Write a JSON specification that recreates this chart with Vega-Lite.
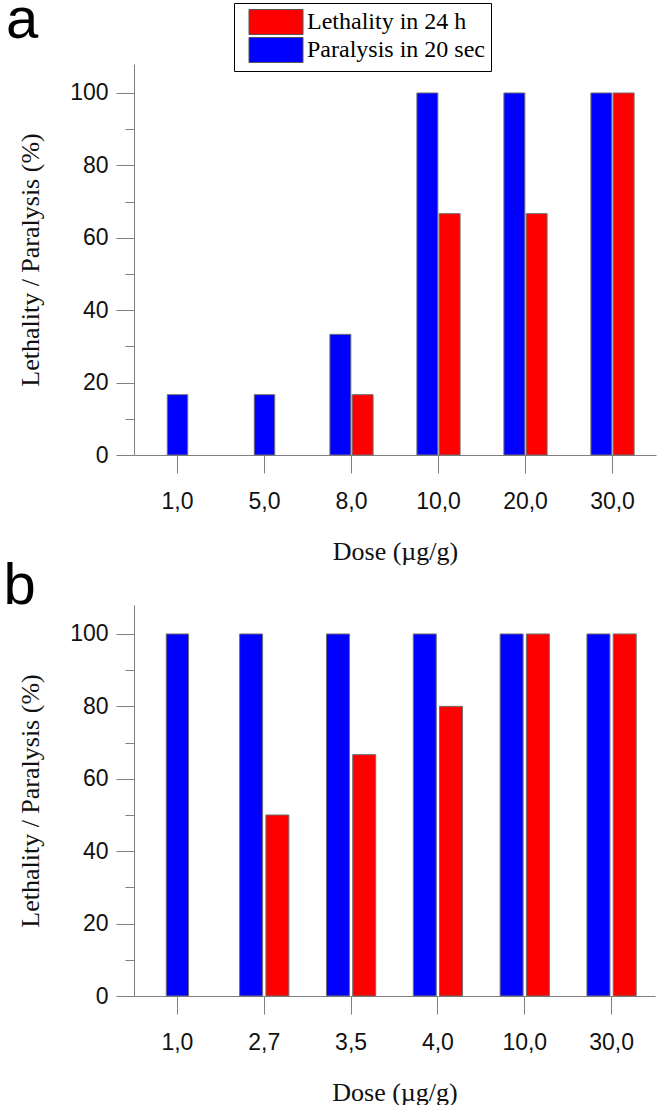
{
  "$schema": "https://vega.github.io/schema/vega-lite/v6.json",
  "padding": {"left": 3, "top": -8, "right": 5, "bottom": 0},
  "background": "white",
  "spacing": -6,
  "datasets": {
    "panelA": [
      {"dose": "1,0", "series": "Paralysis in 20 sec", "value": 16.67},
      {"dose": "1,0", "series": "Lethality in 24 h", "value": 0},
      {"dose": "5,0", "series": "Paralysis in 20 sec", "value": 16.67},
      {"dose": "5,0", "series": "Lethality in 24 h", "value": 0},
      {"dose": "8,0", "series": "Paralysis in 20 sec", "value": 33.33},
      {"dose": "8,0", "series": "Lethality in 24 h", "value": 16.67},
      {"dose": "10,0", "series": "Paralysis in 20 sec", "value": 100},
      {"dose": "10,0", "series": "Lethality in 24 h", "value": 66.67},
      {"dose": "20,0", "series": "Paralysis in 20 sec", "value": 100},
      {"dose": "20,0", "series": "Lethality in 24 h", "value": 66.67},
      {"dose": "30,0", "series": "Paralysis in 20 sec", "value": 100},
      {"dose": "30,0", "series": "Lethality in 24 h", "value": 100}
    ],
    "panelB": [
      {"dose": "1,0", "series": "Paralysis in 20 sec", "value": 100},
      {"dose": "1,0", "series": "Lethality in 24 h", "value": 0},
      {"dose": "2,7", "series": "Paralysis in 20 sec", "value": 100},
      {"dose": "2,7", "series": "Lethality in 24 h", "value": 50},
      {"dose": "3,5", "series": "Paralysis in 20 sec", "value": 100},
      {"dose": "3,5", "series": "Lethality in 24 h", "value": 66.67},
      {"dose": "4,0", "series": "Paralysis in 20 sec", "value": 100},
      {"dose": "4,0", "series": "Lethality in 24 h", "value": 80},
      {"dose": "10,0", "series": "Paralysis in 20 sec", "value": 100},
      {"dose": "10,0", "series": "Lethality in 24 h", "value": 100},
      {"dose": "30,0", "series": "Paralysis in 20 sec", "value": 100},
      {"dose": "30,0", "series": "Lethality in 24 h", "value": 100}
    ]
  },
  "config": {
    "view": {"stroke": null},
    "axis": {"grid": false, "domainColor": "#808080", "tickColor": "#808080", "labelColor": "#111111", "titleColor": "#111111", "domainWidth": 1, "tickWidth": 1}
  },
  "resolve": {
    "scale": {"color": "independent", "x": "independent", "xOffset": "independent", "y": "independent"},
    "legend": {"color": "independent"}
  },
  "vconcat": [
    {
      "data": {"name": "panelA"},
      "width": 522,
      "height": 391,
      "title": {"text": "a", "anchor": "start", "frame": "group", "orient": "top", "offset": 0, "dx": -128, "dy": 93.5, "baseline": "alphabetic", "fontSize": 58, "font": "Liberation Sans", "fontWeight": "normal", "color": "#000000"},
      "transform": [
        {"filter": "datum.value > 0"},
        {"joinaggregate": [{"op": "count", "as": "n"}], "groupby": ["dose"]}
      ],
      "resolve": {"axis": {"y": "independent"}},
      "layer": [
        {
          "transform": [{"filter": "datum.n > 1"}],
          "mark": {"type": "bar", "stroke": "#707070", "strokeWidth": 1},
          "encoding": {
            "x": {"field": "dose", "type": "nominal", "scale": {"domain": ["1,0", "5,0", "8,0", "10,0", "20,0", "30,0"], "paddingInner": 0, "paddingOuter": 0},
              "axis": {"title": "Dose (µg/g)", "titleFont": "Liberation Serif", "titleFontSize": 26, "titleFontWeight": "normal", "titlePadding": 25, "labelFont": "Liberation Sans", "labelFontSize": 23, "labelAngle": 0, "labelPadding": 17, "tickSize": 18}},
            "xOffset": {"field": "series", "type": "nominal", "scale": {"domain": ["Paralysis in 20 sec", "Lethality in 24 h"], "paddingInner": 0.058, "paddingOuter": 0.984}},
            "y": {"field": "value", "type": "quantitative", "scale": {"domain": [0, 108], "nice": false},
              "axis": {"orient": "left", "title": "Lethality / Paralysis (%)", "titleFont": "Liberation Serif", "titleFontSize": 26, "titleFontWeight": "normal", "titlePadding": 26, "values": [0, 20, 40, 60, 80, 100], "labelFont": "Liberation Sans", "labelFontSize": 23, "labelPadding": 8, "tickSize": 18}},
            "color": {"field": "series", "type": "nominal", "scale": {"domain": ["Lethality in 24 h", "Paralysis in 20 sec"], "range": ["#ff0000", "#0000ff"]},
              "legend": {"title": null, "orient": "none", "legendX": 100, "legendY": -61, "direction": "vertical", "symbolType": "M-2.16,-1H2.16V1H-2.16Z", "symbolSize": 625, "symbolStrokeColor": "#555555", "symbolStrokeWidth": 1, "symbolOpacity": 1, "symbolOffset": 23, "labelFont": "Liberation Serif", "labelFontSize": 24, "labelColor": "#000000", "labelOffset": 18, "labelLimit": 400, "padding": 6, "rowPadding": -3, "strokeColor": "#000000", "fillColor": "#ffffff"}}
          }
        },
        {
          "transform": [{"filter": "datum.n == 1"}],
          "mark": {"type": "bar", "stroke": "#707070", "strokeWidth": 1, "width": {"band": 0.235}},
          "encoding": {
            "x": {"field": "dose", "type": "nominal", "scale": {"domain": ["1,0", "5,0", "8,0", "10,0", "20,0", "30,0"], "paddingInner": 0, "paddingOuter": 0}},
            "y": {"field": "value", "type": "quantitative", "scale": {"domain": [0, 108], "nice": false},
              "axis": {"orient": "left", "title": null, "values": [10, 30, 50, 70, 90], "labels": false, "domain": false, "tickSize": 9}},
            "color": {"field": "series", "type": "nominal", "scale": {"domain": ["Lethality in 24 h", "Paralysis in 20 sec"], "range": ["#ff0000", "#0000ff"]},
              "legend": {"title": null, "orient": "none", "legendX": 100, "legendY": -61, "direction": "vertical", "symbolType": "M-2.16,-1H2.16V1H-2.16Z", "symbolSize": 625, "symbolStrokeColor": "#555555", "symbolStrokeWidth": 1, "symbolOpacity": 1, "symbolOffset": 23, "labelFont": "Liberation Serif", "labelFontSize": 24, "labelColor": "#000000", "labelOffset": 18, "labelLimit": 400, "padding": 6, "rowPadding": -3, "strokeColor": "#000000", "fillColor": "#ffffff"}}
          }
        }
      ]
    },
    {
      "data": {"name": "panelB"},
      "width": 521,
      "height": 391,
      "title": {"text": "b", "anchor": "start", "frame": "group", "orient": "top", "offset": 0, "dx": -130.5, "dy": 57, "baseline": "alphabetic", "fontSize": 58, "font": "Liberation Sans", "fontWeight": "normal", "color": "#000000"},
      "transform": [
        {"filter": "datum.value > 0"},
        {"joinaggregate": [{"op": "count", "as": "n"}], "groupby": ["dose"]}
      ],
      "resolve": {"axis": {"y": "independent"}},
      "layer": [
        {
          "transform": [{"filter": "datum.n > 1"}],
          "mark": {"type": "bar", "stroke": "#707070", "strokeWidth": 1},
          "encoding": {
            "x": {"field": "dose", "type": "nominal", "scale": {"domain": ["1,0", "2,7", "3,5", "4,0", "10,0", "30,0"], "paddingInner": 0, "paddingOuter": 0},
              "axis": {"title": "Dose (µg/g)", "titleFont": "Liberation Serif", "titleFontSize": 26, "titleFontWeight": "normal", "titlePadding": 25, "labelFont": "Liberation Sans", "labelFontSize": 23, "labelAngle": 0, "labelPadding": 17, "tickSize": 18}},
            "xOffset": {"field": "series", "type": "nominal", "scale": {"domain": ["Paralysis in 20 sec", "Lethality in 24 h"], "paddingInner": 0.125, "paddingOuter": 0.715}},
            "y": {"field": "value", "type": "quantitative", "scale": {"domain": [0, 108], "nice": false},
              "axis": {"orient": "left", "title": "Lethality / Paralysis (%)", "titleFont": "Liberation Serif", "titleFontSize": 26, "titleFontWeight": "normal", "titlePadding": 26, "values": [0, 20, 40, 60, 80, 100], "labelFont": "Liberation Sans", "labelFontSize": 23, "labelPadding": 8, "tickSize": 18}},
            "color": {"field": "series", "type": "nominal", "scale": {"domain": ["Lethality in 24 h", "Paralysis in 20 sec"], "range": ["#ff0000", "#0000ff"]}, "legend": null}
          }
        },
        {
          "transform": [{"filter": "datum.n == 1"}],
          "mark": {"type": "bar", "stroke": "#707070", "strokeWidth": 1, "width": {"band": 0.257}},
          "encoding": {
            "x": {"field": "dose", "type": "nominal", "scale": {"domain": ["1,0", "2,7", "3,5", "4,0", "10,0", "30,0"], "paddingInner": 0, "paddingOuter": 0}},
            "y": {"field": "value", "type": "quantitative", "scale": {"domain": [0, 108], "nice": false},
              "axis": {"orient": "left", "title": null, "values": [10, 30, 50, 70, 90], "labels": false, "domain": false, "tickSize": 9}},
            "color": {"field": "series", "type": "nominal", "scale": {"domain": ["Lethality in 24 h", "Paralysis in 20 sec"], "range": ["#ff0000", "#0000ff"]}, "legend": null}
          }
        }
      ]
    }
  ]
}
